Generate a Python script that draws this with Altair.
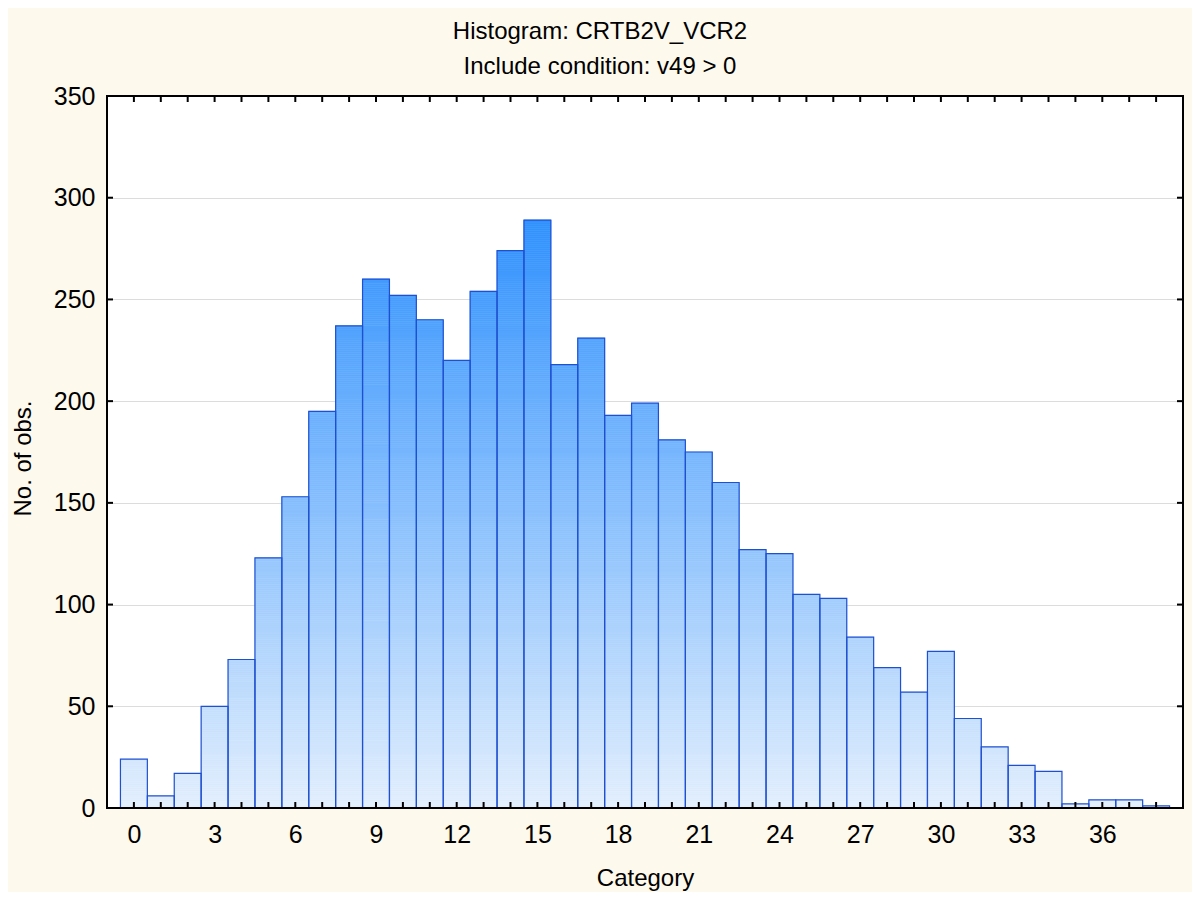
import altair as alt
import pandas as pd

# ---- data ----
categories = list(range(39))
counts = [24, 6, 17, 50, 73, 123, 153, 195, 237, 260,
          252, 240, 220, 254, 274, 289, 218, 231, 193, 199,
          181, 175, 160, 127, 125, 105, 103, 84, 69, 57,
          77, 44, 30, 21, 18, 2, 4, 4, 1]
x_tick_labels = [0, 3, 6, 9, 12, 15, 18, 21, 24, 27, 30, 33, 36]
y_tick_labels = [0, 50, 100, 150, 200, 250, 300, 350]
x_minor_ticks = list(range(0, 39))
y_minor_ticks = [50, 100, 150, 200, 250, 300]

W, H = 1076, 712
FONT = "Liberation Sans"

bars = pd.DataFrame({"cat": categories, "count": counts})

# thin slices of each bar, to give the whole plot one vertical colour gradient
seg_rows = []
for c, n in zip(categories, counts):
    for k in range(n):
        seg_rows.append({"cat": c, "lo": k, "hi": k + 1, "mid": k + 0.5})
segs = pd.DataFrame(seg_rows)

xscale = alt.Scale(domain=[-1, 39], nice=False, zero=False, padding=0)
yscale = alt.Scale(domain=[0, 350], nice=False, padding=0)
cscale = alt.Scale(domain=[0, 300], range=["#e3effd", "#2a8efe"], interpolate="rgb")

xaxis = alt.Axis(values=x_tick_labels, grid=False, ticks=False, domain=False,
                 labelFontSize=25, labelFont=FONT, labelColor="black", labelPadding=14,
                 title="Category", titleFontSize=24, titleFont=FONT, titleFontWeight="normal",
                 titleColor="black", titleY=77, titleBaseline="alphabetic")
yaxis = alt.Axis(values=y_tick_labels, grid=True, gridColor="#dcdcdc", gridWidth=1,
                 ticks=False, domain=False,
                 labelFontSize=25, labelFont=FONT, labelColor="black", labelPadding=12,
                 title="No. of obs.", titleFontSize=24, titleFont=FONT, titleFontWeight="normal",
                 titleColor="black", titleX=-84, titleY=H / 2 + 6, titleBaseline="middle")


def X(f):
    return alt.X(f, scale=xscale, axis=xaxis)


def Y(f):
    return alt.Y(f, scale=yscale, axis=yaxis)


fill = alt.Chart(segs).mark_rect(strokeWidth=0.6).encode(
    x=X("x0:Q"),
    x2="x1:Q",
    y=Y("lo:Q"),
    y2="hi:Q",
    color=alt.Color("mid:Q", scale=cscale, legend=None),
    stroke=alt.Stroke("mid:Q", scale=cscale, legend=None),
).transform_calculate(x0="datum.cat - 0.5", x1="datum.cat + 0.5")

outline = alt.Chart(bars).mark_rect(filled=False, stroke="#1f50d2", strokeWidth=1.2).encode(
    x=X("x0:Q"),
    x2="x1:Q",
    y=Y("zero:Q"),
    y2="count:Q",
).transform_calculate(x0="datum.cat - 0.5", x1="datum.cat + 0.5", zero="0")

xt = pd.DataFrame({"t": x_minor_ticks})
yt = pd.DataFrame({"t": y_minor_ticks})
tick_style = dict(color="black", strokeWidth=2)
bottom_ticks = alt.Chart(xt).mark_rule(**tick_style).encode(
    x=X("t:Q"), y=alt.value(H - 6), y2=alt.value(H))
top_ticks = alt.Chart(xt).mark_rule(**tick_style).encode(
    x=X("t:Q"), y=alt.value(0), y2=alt.value(6))
left_ticks = alt.Chart(yt).mark_rule(**tick_style).encode(
    y=Y("t:Q"), x=alt.value(0), x2=alt.value(6))
right_ticks = alt.Chart(yt).mark_rule(**tick_style).encode(
    y=Y("t:Q"), x=alt.value(W - 6), x2=alt.value(W))

frame = alt.Chart(bars.head(1)).mark_rect(filled=False, stroke="black", strokeWidth=2).encode(
    x=alt.value(0), x2=alt.value(W), y=alt.value(0), y2=alt.value(H))

chart = alt.layer(
    fill, outline, bottom_ticks, top_ticks, left_ticks, right_ticks, frame
).properties(
    width=W, height=H,
    title=alt.TitleParams(
        text=["Histogram: CRTB2V_VCR2", "Include condition: v49 > 0"],
        fontSize=24, font=FONT, fontWeight="normal", color="black",
        anchor="middle", dx=-45, lineHeight=35, offset=5,
    ),
    background="#fef9ed",
    padding={"left": 99, "top": 88, "right": 9, "bottom": 84},
    autosize=alt.AutoSizeParams(type="none"),
).configure_view(stroke=None, fill="white")

chart.save("out.html", embed_options={"renderer": "svg", "actions": False})
